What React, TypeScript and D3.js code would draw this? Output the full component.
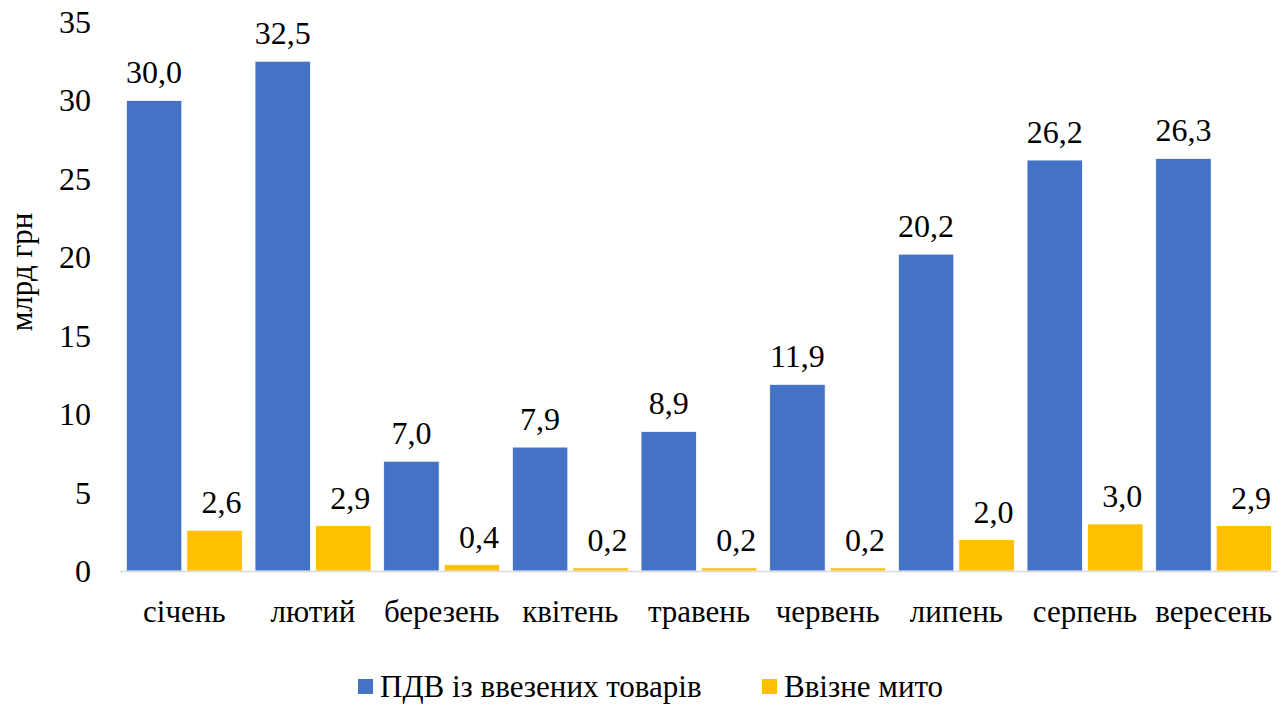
import React from "react";
import * as d3 from "d3";

const categories = ["січень", "лютий", "березень", "квітень", "травень", "червень", "липень", "серпень", "вересень"];
const vatValues = [30.0, 32.5, 7.0, 7.9, 8.9, 11.9, 20.2, 26.2, 26.3];
const dutyValues = [2.6, 2.9, 0.4, 0.2, 0.2, 0.2, 2.0, 3.0, 2.9];
const yTicks = [0, 5, 10, 15, 20, 25, 30, 35];
const seriesNames = ["ПДВ із ввезених товарів", "Ввізне мито"];
const colors = ["#4472C4", "#FFC000"];

const W = 1286, H = 706;
const plotLeft = 120, plotRight = 1278, plotTop = 22, plotBottom = 571;
const FONT = '"Liberation Serif"';

export default function App() {
  const x0 = d3.scaleBand<string>().domain(categories).range([plotLeft, plotRight]);
  const y = d3.scaleLinear().domain([0, 35]).range([plotBottom, plotTop]);
  const step = x0.step();
  const gapOuter = 12.7;
  const gapInner = 5;
  const bw = (step - gapOuter - gapInner) / 2;
  const fmt = (v: number) => v.toFixed(1).replace(".", ",");
  const series = [vatValues, dutyValues];
  const ts = { fontFamily: FONT };

  return (
    <svg width={W} height={H} style={{ position: "absolute", left: 0, top: 0, background: "#fff" }}>
      {yTicks.map((t) => (
        <text key={t} x={91} y={y(t) + 11} textAnchor="end" fontSize={32} fill="#000" style={ts}>{t}</text>
      ))}
      <text transform={`translate(32,${272}) rotate(-90)`} textAnchor="middle" fontSize={31} fill="#000" style={ts}>млрд грн</text>
      {categories.map((c, i) => {
        const cx = x0(c) as number;
        return (
          <g key={c}>
            {series.map((vals, s) => {
              const bx = cx + gapOuter / 2 + s * (bw + gapInner);
              const v = vals[i];
              return (
                <g key={s}>
                  <rect x={bx} y={y(v)} width={bw} height={plotBottom - y(v)} fill={colors[s]} stroke="#fff" strokeWidth={0.8} />
                  <text x={bx + bw / 2 + (s === 1 ? 7 : 0)} y={y(v) - 17} textAnchor="middle" fontSize={32} fill="#000" style={ts}>{fmt(v)}</text>
                </g>
              );
            })}
            <text x={cx + step / 2} y={622} textAnchor="middle" fontSize={31} fill="#000" style={ts}>{c}</text>
          </g>
        );
      })}
      <line x1={plotLeft} x2={plotRight} y1={plotBottom + 0.5} y2={plotBottom + 0.5} stroke="#D9D9D9" strokeWidth={1.5} />
      <rect x={358} y={679} width={15} height={15} fill={colors[0]} />
      <text x={380} y={697} fontSize={31} fill="#000" style={ts}>{seriesNames[0]}</text>
      <rect x={762} y={679} width={15} height={15} fill={colors[1]} />
      <text x={784} y={697} fontSize={31} fill="#000" style={ts}>{seriesNames[1]}</text>
    </svg>
  );
}
